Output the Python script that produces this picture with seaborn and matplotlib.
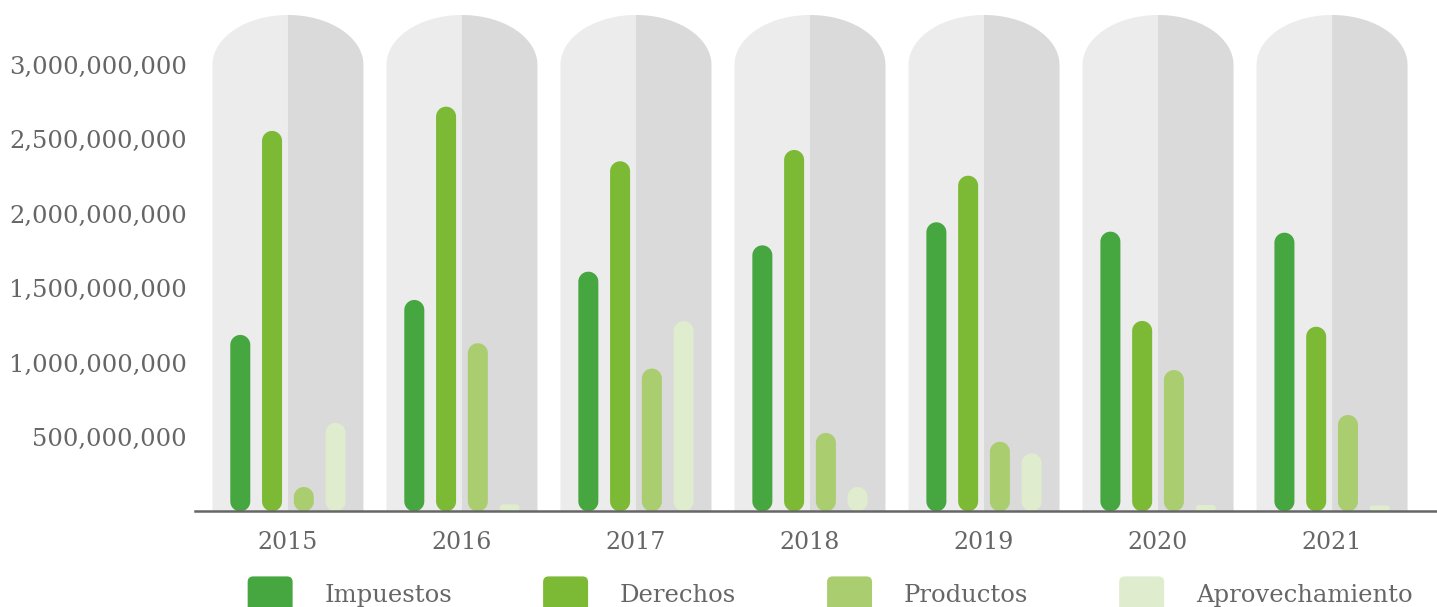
import numpy as np
import pandas as pd
import matplotlib
matplotlib.use("Agg")
import matplotlib.pyplot as plt
import seaborn as sns
from matplotlib.patches import FancyBboxPatch, Polygon, Patch
from matplotlib.legend_handler import HandlerPatch
from matplotlib.ticker import FuncFormatter

# ---- data ----
years = ["2015", "2016", "2017", "2018", "2019", "2020", "2021"]
series = ["Impuestos", "Derechos", "Productos", "Aprovechamiento"]
impuestos = [1.186e9, 1.421e9, 1.611e9, 1.788e9, 1.943e9, 1.880e9, 1.873e9]
derechos = [2.557e9, 2.720e9, 2.353e9, 2.429e9, 2.256e9, 1.280e9, 1.241e9]
productos = [0.164e9, 1.130e9, 0.960e9, 0.527e9, 0.468e9, 0.950e9, 0.648e9]
aprovechamiento = [0.595e9, 0.047e9, 1.279e9, 0.164e9, 0.390e9, 0.043e9, 0.040e9]
yticks = [5e8, 1e9, 1.5e9, 2e9, 2.5e9, 3e9]
colors = ["#46A640", "#7CB934", "#AACD70", "#E0ECCE"]

df = pd.DataFrame({
    "year": np.repeat(years, len(series)),
    "serie": series * len(years),
    "valor": np.ravel(np.column_stack([impuestos, derechos, productos, aprovechamiento])),
})

sns.set_theme(style="white")
plt.rcParams["font.family"] = ["DejaVu Serif", "DejaVu Sans"]
text_color = "#666666"

W, H = 1437, 607
fig = plt.figure(figsize=(W / 100, H / 100), dpi=100)
base_px = 511.4
ax = fig.add_axes([195 / W, (H - base_px) / H, 1 - 195 / W, base_px / H])
ax.set_facecolor("none")

XL, XR = -0.534, 6.603
ymax = base_px / 148.8 * 1e9

sns.barplot(data=df, x="year", y="valor", hue="serie", order=years,
            hue_order=series, palette=colors, width=0.73, gap=0.37,
            ax=ax, legend=False, saturation=1, zorder=3)
ax.set_xlim(XL, XR)
ax.set_ylim(0, ymax)

# pixel scales
bbox = ax.get_window_extent()
px_x = bbox.width / (XR - XL)
px_y = bbox.height / ymax


def rounded_rect(x0, y0, w, h, r_px, n=16):
    rx = r_px / px_x
    ry = r_px / px_y
    x1, y1 = x0 + w, y0 + h
    pts = []
    corners = [
        (x1 - rx, y0 + ry, -np.pi / 2, 0),
        (x1 - rx, y1 - ry, 0, np.pi / 2),
        (x0 + rx, y1 - ry, np.pi / 2, np.pi),
        (x0 + rx, y0 + ry, np.pi, 1.5 * np.pi),
    ]
    for cx, cy, a0, a1 in corners:
        t = np.linspace(a0, a1, n)
        pts.append(np.column_stack([cx + rx * np.cos(t), cy + ry * np.sin(t)]))
    return np.vstack(pts)


# replace seaborn's rectangles with pill shapes
rects = list(ax.patches)
for r in rects:
    x0, y0 = r.get_x(), r.get_y()
    w, h = r.get_width(), r.get_height()
    fc = r.get_facecolor()
    r.remove()
    r_px = min(w * px_x / 2, h * px_y / 2)
    ax.add_patch(Polygon(rounded_rect(x0, y0, w, h, r_px), closed=True,
                         facecolor=fc, edgecolor="none", zorder=3))

# background columns with elliptical tops
col_half = 75.5 / px_x
top_side = 3.0e9
top_peak = (base_px - 15) / 148.8 * 1e9
for i in range(len(years)):
    cx = i
    t = np.linspace(np.pi, np.pi / 2, 60)
    left_arc = np.column_stack([cx + col_half * np.cos(t),
                                top_side + (top_peak - top_side) * np.sin(t)])
    left = np.vstack([[cx, 0], [cx - col_half, 0], left_arc, [cx, top_peak]])
    t2 = np.linspace(np.pi / 2, 0, 60)
    right_arc = np.column_stack([cx + col_half * np.cos(t2),
                                 top_side + (top_peak - top_side) * np.sin(t2)])
    right = np.vstack([[cx, 0], right_arc, [cx + col_half, 0]])
    ax.add_patch(Polygon(left, closed=True, facecolor="#ECECEC", edgecolor="none", zorder=1))
    ax.add_patch(Polygon(right, closed=True, facecolor="#DADADA", edgecolor="none", zorder=1))

# axes styling
for s in ["top", "right", "left"]:
    ax.spines[s].set_visible(False)
ax.spines["bottom"].set_color(text_color)
ax.spines["bottom"].set_linewidth(1.8)
ax.spines["bottom"].set_zorder(5)
ax.set_yticks(yticks)
ax.yaxis.set_major_formatter(FuncFormatter(lambda v, p: f"{v:,.0f}"))
ax.tick_params(axis="y", length=0, pad=6, labelsize=17.5, labelcolor=text_color)
ax.tick_params(axis="x", length=0, pad=14, labelsize=17, labelcolor=text_color)
ax.set_xlabel("")
ax.set_ylabel("")
ax.grid(False)


class RoundHandler(HandlerPatch):
    def create_artists(self, legend, orig_handle, xdescent, ydescent,
                       width, height, fontsize, trans):
        p = FancyBboxPatch((-xdescent, -ydescent), width, height,
                           boxstyle="round,pad=0,rounding_size=4",
                           facecolor=orig_handle.get_facecolor(),
                           edgecolor="none", transform=trans)
        return [p]


handles = [Patch(facecolor=c, label=s) for c, s in zip(colors, series)]
leg = fig.legend(handles=handles, loc="center", bbox_to_anchor=(830 / W, 1 - 594 / H),
                 ncol=4, frameon=False, fontsize=17.5, handlelength=1.85,
                 handleheight=1.85, handletextpad=1.3, columnspacing=3.75,
                 handler_map={Patch: RoundHandler()})
for t in leg.get_texts():
    t.set_color(text_color)

fig.savefig("out.png", dpi=100)
